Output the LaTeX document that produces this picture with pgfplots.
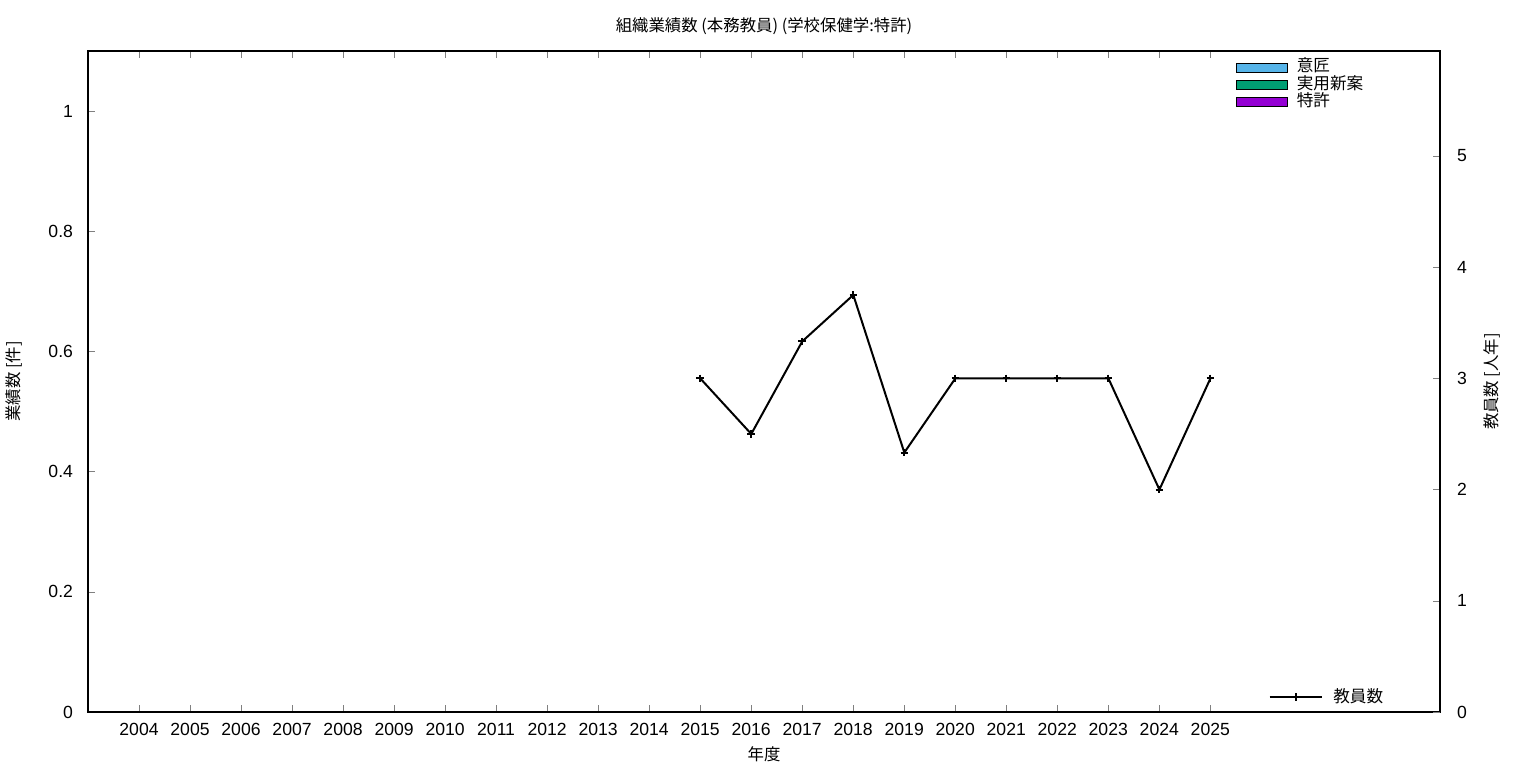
\documentclass[border=0pt]{standalone}
\usepackage{fontspec}
\setmainfont{Noto Sans CJK JP}
\newfontfamily\lat{Liberation Sans}
\usepackage{pgfplots}
\pgfplotsset{compat=1.18}
\definecolor{cIsho}{HTML}{56B4E9}
\definecolor{cJitsu}{HTML}{009E73}
\definecolor{cTokkyo}{HTML}{9400D3}
\newcommand{\fs}{\fontsize{8.2}{10}\selectfont}
\newcommand{\tfs}{\lat\fontsize{8.8}{10}\selectfont}
\begin{document}
\begin{tikzpicture}
\path[use as bounding box] (0pt,0pt) rectangle (768pt,384pt);
\begin{axis}[
  at={(44pt,28pt)}, anchor=south west,
  scale only axis, width=676pt, height=330.5pt,
  xmin=2003, xmax=2029.5, ymin=0, ymax=1.1,
  xtick={2004,...,2025},
  ytick={0,0.2,0.4,0.6,0.8,1},
  xtick pos=both, ytick pos=left,
  tick align=inside,
  major tick length=3.5pt,
  xticklabel style={/pgf/number format/1000 sep={}, yshift=-2pt},
  yticklabel style={xshift=-4pt},
  /pgf/number format/assume math mode=true,
  tick label style={font=\tfs},
  label style={font=\fs},
  title style={font=\fs},
  title={組織業績数 (本務教員) (学校保健学:特許)},
  title style={at={(axis description cs:0.5,1.019)}, anchor=center},
  xlabel={年度},
  xlabel style={at={(axis description cs:0.5,-0.0635)}, anchor=center},
  ylabel={業績数 [件]},
  ylabel style={at={(axis description cs:-0.0547,0.5)}, anchor=center, rotate=0},
  axis line style={line width=0.6pt},
  legend style={at={(0.849,0.988)}, anchor=north west, draw=none, fill=none,
    font=\fontsize{8.3}{9}\selectfont, inner sep=0pt, row sep=0pt,
    nodes={inner sep=0.3pt, text height=6pt, text depth=2pt},
    cells={anchor=west}},
  legend image code/.code={\draw[#1, draw=black, line width=0.5pt] (0pt,-2.25pt) rectangle (25.5pt,2.25pt);},
  legend cell align=left,
  legend style={/tikz/every odd column/.append style={column sep=4pt}},
]
\addlegendimage{fill=cIsho}\addlegendentry{意匠}
\addlegendimage{fill=cJitsu}\addlegendentry{実用新案}
\addlegendimage{fill=cTokkyo}\addlegendentry{特許}
\end{axis}
\begin{axis}[
  at={(44pt,28pt)}, anchor=south west,
  scale only axis, width=676pt, height=330.5pt,
  xmin=2003, xmax=2029.5, ymin=0, ymax=5.944,
  axis x line=none, axis y line*=right,
  ytick={0,1,2,3,4,5},
  tick align=inside,
  major tick length=3.5pt,
  yticklabel style={xshift=5pt},
  /pgf/number format/assume math mode=true,
  tick label style={font=\tfs},
  ylabel={教員数 [人年]},
  ylabel style={font=\fs, at={(axis description cs:1.0385,0.5)}, anchor=center, rotate=0},
  axis line style={line width=0.6pt},
  legend style={at={(0.873,0.0227)}, anchor=west, draw=none, fill=none,
    font=\fontsize{8.3}{9}\selectfont, inner sep=0pt,
    nodes={inner sep=0.3pt},
    /tikz/every odd column/.append style={column sep=5pt}},
  legend image code/.code={\draw[mark repeat=2,mark phase=2,#1] plot coordinates {(0pt,0pt) (13pt,0pt) (26pt,0pt)};},
]
\addplot[black, line width=1pt, mark=+, mark size=1.9pt, mark options={line width=1pt}] coordinates {
(2015,3) (2016,2.5) (2017,3.333) (2018,3.75) (2019,2.333) (2020,3) (2021,3) (2022,3) (2023,3) (2024,2) (2025,3)};
\addlegendentry{教員数}
\end{axis}
\end{tikzpicture}
\end{document}
